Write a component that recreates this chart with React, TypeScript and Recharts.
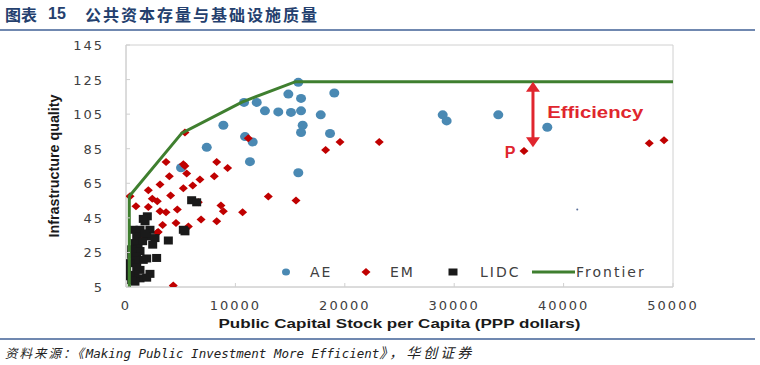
import React from 'react';
import { ScatterChart, Scatter, XAxis, YAxis, ReferenceArea, ReferenceLine, ReferenceDot, Legend } from 'recharts';

// values: [public capital stock per capita, infrastructure quality]
const aeData = [
  [15750, 123.4], [14840, 116.6], [19040, 117.2], [16000, 114.1], [10790, 111.8], [11950, 111.8],
  [12700, 106.9], [13920, 106.3], [15080, 106], [16000, 106.9], [17800, 104.6], [8900, 98.6],
  [16150, 98.6], [16000, 94.4], [18650, 93.8], [10880, 92], [11580, 88.9], [7380, 85.8],
  [11330, 77.5], [15750, 71.1], [5030, 74], [28950, 104.6], [29310, 101.1], [34030, 104.6], [38510, 97.4],
];

const emData = [
  [23150, 88.9], [36380, 83.7], [47830, 88.1], [49180, 89.9], [19560, 88.9], [18250, 84.3], [11180, 91],
  [5390, 94.4], [370, 57.5], [3660, 77.3], [8290, 77.3], [5390, 75], [5240, 76], [9290, 73.8], [5550, 70.7],
  [3960, 69.1], [8070, 69.1], [6760, 67.2], [3110, 64.3], [6100, 63.7], [5240, 62.2], [2040, 61],
  [4080, 57.9], [2400, 56], [2860, 54.6], [13010, 57.3], [15540, 55], [6610, 54], [910, 51.7], [2040, 51.3],
  [4690, 49.8], [8680, 52.1], [8900, 48.8], [10660, 48.2], [3110, 48.8], [3660, 48.2], [6860, 44],
  [8290, 43], [3350, 40.9], [4570, 42], [5700, 40], [2860, 36.6], [1580, 35.2], [1430, 34.3],
  [2950, 36.8], [4320, 5.8],
];

const lidcData = [
  [6000, 55.2], [6460, 54], [1950, 45.9], [1740, 43], [1580, 44.4], [670, 38.1], [1280, 38.1],
  [2190, 38.1], [5240, 38.1], [5390, 37.2], [980, 34.3], [1890, 34.3], [2650, 33.3], [3870, 31.9],
  [820, 30.4], [1520, 31.5], [1100, 27.5], [520, 26.8], [1280, 25.8], [520, 23.6], [980, 22.5],
  [2800, 21.8], [1890, 21.5], [1580, 20.7], [820, 20.5], [370, 18.8], [980, 16.5], [60, 15.3],
  [1280, 14.9], [2190, 12.6], [820, 12], [370, 11.2], [1280, 10], [1890, 10.4], [820, 8.1],
  [520, 9], [2440, 29.5], [1740, 36],
];

const frontierData = [[300, 5], [300, 57.5], [5100, 94], [10600, 112], [15500, 123.8], [50000, 123.8]];

const strayDot = [[41250, 49.8]];

const xTicks = [0, 10000, 20000, 30000, 40000, 50000];
const yTicks = [5, 25, 45, 65, 85, 105, 125, 145];

// efficiency arrow from the frontier down to country P
const arrowX = 37200;
const arrowTop = 123.8;
const arrowBottom = 85.8;

const toPts = (rows: number[][]) => rows.map(([x, y]) => ({ x, y }));

const BLUE = '#4a89b3';
const RED = '#c00000';
const GREEN = '#3f7f2f';
const LABEL_RED = '#e0262e';
const AXIS = '#d0d0d0';

const Circle = ({ cx, cy }: any) => <ellipse cx={cx} cy={cy} rx={5} ry={4.5} fill={BLUE} />;
const Diamond = ({ cx, cy }: any) => (
  <polygon points={`${cx - 4.5},${cy} ${cx},${cy - 4} ${cx + 4.5},${cy} ${cx},${cy + 4}`} fill={RED} />
);
const Square = ({ cx, cy }: any) => <rect x={cx - 4.5} y={cy - 4} width={9} height={8} fill="#1a1a1a" />;
const Tiny = ({ cx, cy }: any) => <circle cx={cx} cy={cy} r={1} fill="#5a6f9a" />;

const XTick = ({ x, y, payload }: any) => (
  <g>
    <line x1={x} y1={y} x2={x} y2={y - 4} stroke={AXIS} />
    <text x={x} y={y + 23} textAnchor="middle" fill="#404040"
      style={{ fontFamily: 'DejaVu Sans', fontSize: 13, letterSpacing: 2 }}>
      {payload.value}
    </text>
  </g>
);

const YTick = ({ x, y, payload }: any) => (
  <g>
    <line x1={x} y1={y} x2={x + 4} y2={y} stroke={AXIS} />
    <text x={x - 22} y={y + 5} textAnchor="end" fill="#404040"
      style={{ fontFamily: 'DejaVu Sans', fontSize: 13, letterSpacing: 2 }}>
      {payload.value}
    </text>
  </g>
);

const XTitle = ({ viewBox }: any) => (
  <text x={viewBox.x + viewBox.width / 2} y={viewBox.y + 41} textAnchor="middle" fill="#1a1a1a"
    textLength={362} lengthAdjust="spacingAndGlyphs"
    style={{ fontFamily: 'Liberation Sans', fontWeight: 700, fontSize: 13 }}>
    Public Capital Stock per Capita (PPP dollars)
  </text>
);

const YTitle = () => (
  <text transform="translate(59,166) rotate(-90)" textAnchor="middle" fill="#1a1a1a"
    textLength={143} lengthAdjust="spacingAndGlyphs"
    style={{ fontFamily: 'Liberation Sans', fontWeight: 700, fontSize: 14 }}>
    Infrastructure quality
  </text>
);

const legendText = { fontFamily: 'DejaVu Sans', fontSize: 14, letterSpacing: 2, fill: '#404040' };

const renderLegend = () => (
  <svg width={400} height={20}>
    <ellipse cx={11} cy={10} rx={4} ry={3.5} fill={BLUE} />
    <text x={35} y={15} style={legendText}>AE</text>
    <polygon points="86.5,10 91,6 95.5,10 91,14" fill={RED} />
    <text x={115} y={15} style={legendText}>EM</text>
    <rect x={173.5} y={6.5} width={9} height={7} fill="#1a1a1a" />
    <text x={205} y={15} style={legendText}>LIDC</text>
    <line x1={257} y1={10} x2={300} y2={10} stroke={GREEN} strokeWidth={3} />
    <text x={301} y={15} style={legendText}>Frontier</text>
  </svg>
);

const ArrowUp = ({ cx, cy }: any) => (
  <polygon points={`${cx},${cy} ${cx - 7},${cy + 10} ${cx + 7},${cy + 10}`} fill={LABEL_RED} />
);
const ArrowDown = ({ cx, cy }: any) => (
  <polygon points={`${cx},${cy} ${cx - 7},${cy - 10} ${cx + 7},${cy - 10}`} fill={LABEL_RED} />
);
const EffLabel = ({ cx, cy }: any) => (
  <text x={cx} y={cy + 6} fill={LABEL_RED} textLength={96} lengthAdjust="spacingAndGlyphs"
    style={{ fontFamily: 'Liberation Sans', fontWeight: 700, fontSize: 16 }}>
    Efficiency
  </text>
);
const PLabel = ({ cx, cy }: any) => (
  <text x={cx} y={cy + 6} textAnchor="middle" fill={LABEL_RED}
    style={{ fontFamily: 'Liberation Sans', fontWeight: 700, fontSize: 16 }}>
    P
  </text>
);

export default function App() {
  return (
    <div style={{ position: 'absolute', left: 0, top: 0, width: 760, height: 365, background: '#fff', overflow: 'hidden' }}>
      {/* header */}
      <div style={{ position: 'absolute', left: 5, top: 4, lineHeight: '20px', fontFamily: '"Noto Sans CJK SC"', fontWeight: 700, fontSize: 16, color: '#24406e', whiteSpace: 'nowrap' }}>
        <span style={{ position: 'absolute', left: 0 }}>图表</span>
        <span style={{ position: 'absolute', left: 43, fontFamily: 'Liberation Sans' }}>15</span>
        <span style={{ position: 'absolute', left: 80, letterSpacing: 2 }}>公共资本存量与基础设施质量</span>
      </div>
      <div style={{ position: 'absolute', left: 0, top: 29, width: 755, height: 2, background: '#7088b0' }} />

      <div style={{ position: 'absolute', left: 0, top: 0 }}>
        <ScatterChart width={760} height={365} margin={{ top: 45, right: 87, bottom: 48, left: 66 }}>
          <XAxis type="number" dataKey="x" domain={[0, 50000]} ticks={xTicks} height={30}
            axisLine={{ stroke: AXIS }} tickLine={false} tickSize={0} tickMargin={0}
            tick={<XTick />} interval={0} allowDataOverflow label={{ content: XTitle }} />
          <YAxis type="number" dataKey="y" domain={[5, 145]} ticks={yTicks} width={60}
            axisLine={{ stroke: AXIS }} tickLine={false} tickSize={0} tickMargin={0}
            tick={<YTick />} interval={0} allowDataOverflow label={{ content: YTitle }} />
          <ReferenceArea x1={0} x2={50000} y1={5} y2={145} fill="none" stroke={AXIS} strokeWidth={1} />
          <Scatter name="AE" data={toPts(aeData)} shape={Circle} isAnimationActive={false} />
          <Scatter name="EM" data={toPts(emData)} shape={Diamond} isAnimationActive={false} />
          <Scatter name="LIDC" data={toPts(lidcData)} shape={Square} isAnimationActive={false} />
          <Scatter name="stray" data={toPts(strayDot)} shape={Tiny} isAnimationActive={false} legendType="none" />
          <Scatter name="Frontier" data={toPts(frontierData)} line={{ stroke: GREEN, strokeWidth: 3 }}
            lineType="joint" shape={() => null} isAnimationActive={false} />
          <ReferenceLine segment={[{ x: arrowX, y: arrowTop - 4 }, { x: arrowX, y: arrowBottom + 4 }]}
            stroke={LABEL_RED} strokeWidth={3} />
          <ReferenceDot x={arrowX} y={arrowTop} shape={ArrowUp} />
          <ReferenceDot x={arrowX} y={arrowBottom} shape={ArrowDown} />
          <ReferenceDot x={38500} y={106} shape={EffLabel} />
          <ReferenceDot x={35100} y={83} shape={PLabel} />
          <Legend content={renderLegend} layout="horizontal" verticalAlign="middle" align="center"
            wrapperStyle={{ position: 'absolute', left: 275, top: 262, width: 400, height: 20 }} />
        </ScatterChart>
      </div>

      {/* footer */}
      <div style={{ position: 'absolute', left: 0, top: 338, width: 755, height: 2, background: '#7088b0' }} />
      <div style={{ position: 'absolute', left: 5, top: 344, lineHeight: '18px', fontFamily: '"DejaVu Sans Mono", "Noto Sans CJK SC"', fontStyle: 'italic', fontSize: 12.5, color: '#222', whiteSpace: 'nowrap' }}>
        <span style={{ letterSpacing: 2 }}>资料来源：《</span>Making Public Investment More Efficient<span style={{ fontSize: 14, letterSpacing: 3 }}>》，华创证券</span>
      </div>
    </div>
  );
}
